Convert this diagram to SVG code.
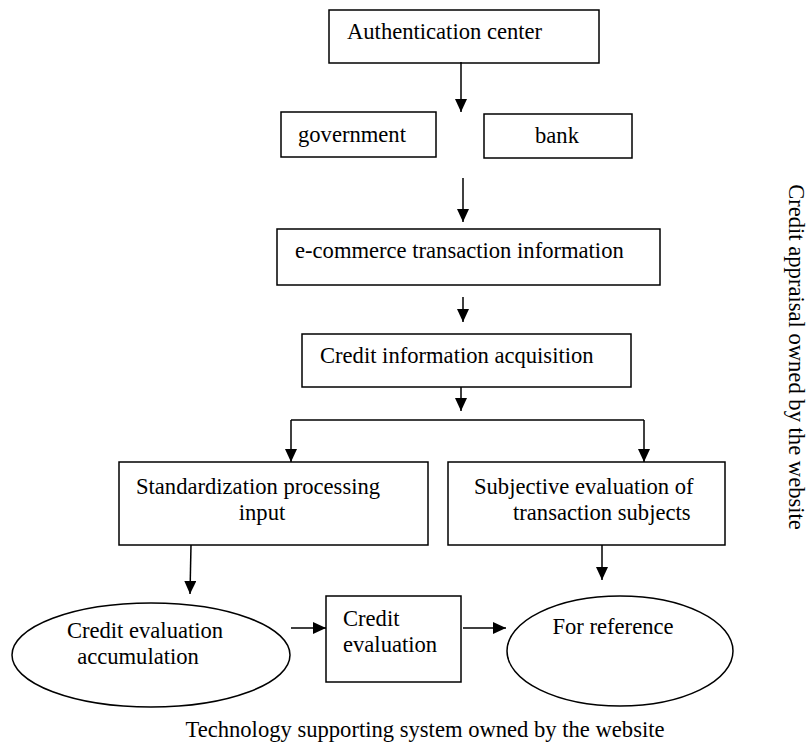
<svg xmlns="http://www.w3.org/2000/svg" width="808" height="742" viewBox="0 0 808 742">
<defs>
<marker id="ah" viewBox="0 0 13 12" refX="13" refY="6" markerWidth="13" markerHeight="12" markerUnits="userSpaceOnUse" orient="auto">
<path d="M0,0 L13,6 L0,12 z" fill="#000"/>
</marker>
</defs>
<style>
.b{fill:#fff;stroke:#000;stroke-width:1.5}
.t{font-family:"Liberation Serif","Times New Roman",serif;font-size:22.6px;fill:#000}
.c{fill:none;stroke:#000;stroke-width:1.5}
.a{marker-end:url(#ah)}
</style>
<rect width="808" height="742" fill="#fff"/>
<g id="auth"><rect class="b" x="329" y="10" width="270" height="53"/><text class="t" x="347" y="39">Authentication center</text></g>
<g id="government"><rect class="b" x="281" y="112" width="155" height="45"/><text class="t" x="298" y="142">government</text></g>
<g id="bank"><rect class="b" x="484" y="114" width="148" height="44"/><text class="t" x="557" y="143" text-anchor="middle">bank</text></g>
<g id="ecommerce"><rect class="b" x="277" y="229" width="383" height="56"/><text class="t" x="295" y="258">e-commerce transaction information</text></g>
<g id="acquisition"><rect class="b" x="302" y="334" width="329" height="53"/><text class="t" x="320" y="363">Credit information acquisition</text></g>
<g id="standardization"><rect class="b" x="119" y="462" width="309" height="83"/><text class="t" x="136" y="494">Standardization processing</text><text class="t" x="262" y="520" text-anchor="middle">input</text></g>
<g id="subjective"><rect class="b" x="448" y="462" width="277" height="83"/><text class="t" x="474" y="494">Subjective evaluation of</text><text class="t" x="513" y="520">transaction subjects</text></g>
<g id="accumulation"><ellipse class="b" cx="151" cy="655" rx="139" ry="52"/><text class="t" x="145" y="638" text-anchor="middle">Credit evaluation</text><text class="t" x="138" y="664" text-anchor="middle">accumulation</text></g>
<g id="evaluation"><rect class="b" x="326" y="596" width="135" height="86"/><text class="t" x="343" y="626">Credit</text><text class="t" x="343" y="652">evaluation</text></g>
<g id="reference"><ellipse class="b" cx="620" cy="651" rx="113" ry="55"/><text class="t" x="613" y="634" text-anchor="middle">For reference</text></g>
<g id="connectors">
<line class="c a" x1="461" y1="62" x2="461" y2="112"/>
<line class="c a" x1="463" y1="178" x2="463" y2="222"/>
<line class="c a" x1="463" y1="297" x2="463" y2="322"/>
<line class="c a" x1="461" y1="387" x2="461" y2="411"/>
<polyline class="c" points="291,420 644,420"/>
<line class="c a" x1="291" y1="420" x2="291" y2="462"/>
<line class="c a" x1="644" y1="420" x2="644" y2="462"/>
<line class="c a" x1="191" y1="545" x2="190" y2="594"/>
<line class="c a" x1="602" y1="545" x2="602" y2="580"/>
<line class="c a" x1="291" y1="628" x2="326" y2="628"/>
<line class="c a" x1="463" y1="628" x2="506" y2="628"/>
</g>
<text class="t" x="425" y="737" text-anchor="middle">Technology supporting system owned by the website</text>
<text class="t" transform="translate(789,357) rotate(90)" text-anchor="middle">Credit appraisal owned by the website</text>
</svg>
